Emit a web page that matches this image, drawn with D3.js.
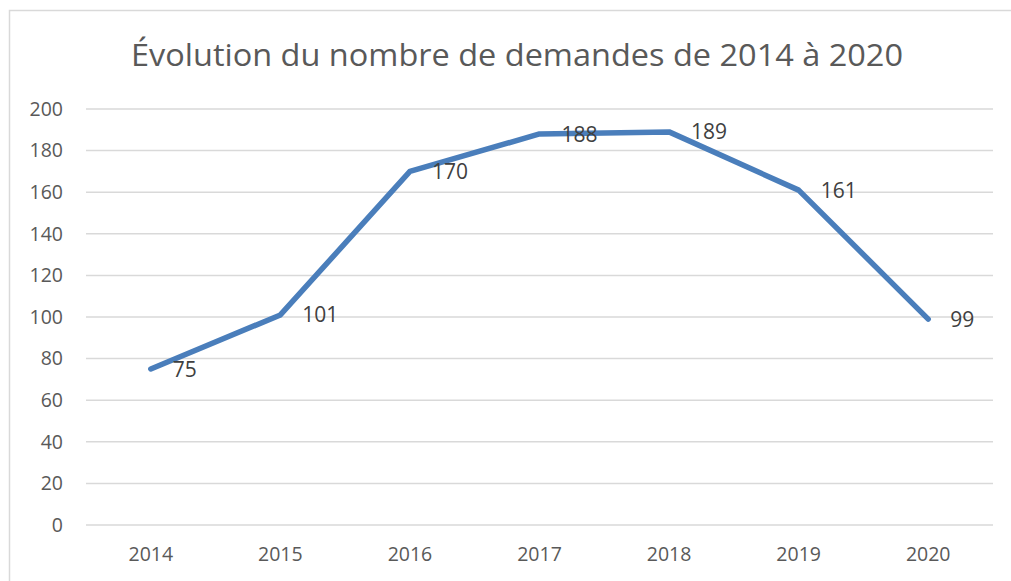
<!DOCTYPE html>
<html>
<head>
<meta charset="utf-8">
<script src="https://cdn.jsdelivr.net/npm/d3@7"></script>
<style>
    body { margin: 0; background: #fff; }
    text { font-family: "Open Sans", "Noto Sans", sans-serif; }
</style>
</head>
<body>
<div id="chart"></div>
<script>
// données
var years = ["2014", "2015", "2016", "2017", "2018", "2019", "2020"];
var demandes = [75, 101, 170, 188, 189, 161, 99];
var yTicks = [0, 20, 40, 60, 80, 100, 120, 140, 160, 180, 200];
var titre = "Évolution du nombre de demandes de 2014 à 2020";

var WIDTH = 1011, HEIGHT = 581;
var margin = {left: 86, right: 18, top: 109, bottom: 56};

var svg = d3.select("#chart").append("svg")
    .attr("width", WIDTH)
    .attr("height", HEIGHT);

// cadre du graphique
svg.append("rect")
    .attr("x", 9.5).attr("y", 10.5)
    .attr("width", WIDTH + 20).attr("height", HEIGHT + 20)
    .attr("fill", "#fff")
    .attr("stroke", "#d9d9d9")
    .attr("stroke-width", 1.5);

var x = d3.scaleBand()
    .domain(years)
    .range([margin.left, WIDTH - margin.right]);

var y = d3.scaleLinear()
    .domain([0, 200])
    .range([HEIGHT - margin.bottom, margin.top]);

// grille
svg.append("g")
    .selectAll("line")
    .data(yTicks).enter()
    .append("line")
    .attr("x1", margin.left)
    .attr("x2", WIDTH - margin.right)
    .attr("y1", function (d) { return y(d); })
    .attr("y2", function (d) { return y(d); })
    .attr("stroke", "#d9d9d9")
    .attr("stroke-width", 1.5);

// axe Y
var yAxis = svg.append("g")
    .attr("transform", "translate(" + (margin.left - 23) + ",0)")
    .call(d3.axisLeft(y).tickValues(yTicks).tickSize(0).tickPadding(0));
yAxis.select(".domain").remove();
yAxis.selectAll("text")
    .attr("fill", "#595959")
    .style("font-size", "19.5px")
    .style("font-family", "'Open Sans', sans-serif");

// axe X
var xAxis = svg.append("g")
    .attr("transform", "translate(0," + (HEIGHT - margin.bottom) + ")")
    .call(d3.axisBottom(x).tickSize(0).tickPadding(22));
xAxis.select(".domain").remove();
xAxis.selectAll("text")
    .attr("fill", "#595959")
    .style("font-size", "19.5px")
    .style("font-family", "'Open Sans', sans-serif");

// courbe
var line = d3.line()
    .x(function (d, i) { return x(years[i]) + x.bandwidth() / 2; })
    .y(function (d) { return y(d); });

svg.append("path")
    .datum(demandes)
    .attr("d", line)
    .attr("fill", "none")
    .attr("stroke", "#4a7ebb")
    .attr("stroke-width", 5.5)
    .attr("stroke-linejoin", "round")
    .attr("stroke-linecap", "round");

// étiquettes de données
svg.append("g")
    .selectAll("text")
    .data(demandes).enter()
    .append("text")
    .attr("x", function (d, i) { return x(years[i]) + x.bandwidth() / 2 + 22; })
    .attr("y", function (d) { return y(d); })
    .attr("dy", "0.36em")
    .attr("fill", "#404040")
    .style("font-size", "21px")
    .text(function (d) { return d; });

// titre
svg.append("text")
    .attr("x", 517)
    .attr("y", 66)
    .attr("text-anchor", "middle")
    .attr("fill", "#595959")
    .attr("textLength", 772)
    .attr("lengthAdjust", "spacingAndGlyphs")
    .style("font-size", "31px")
    .text(titre);
</script>
</body>
</html>
